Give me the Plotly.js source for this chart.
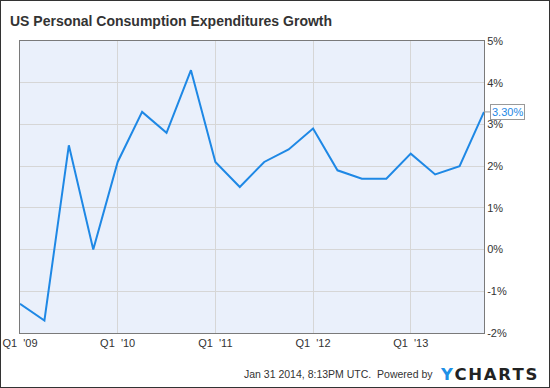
<!DOCTYPE html>
<html>
<head>
<meta charset="utf-8">
<script src="https://cdn.plot.ly/plotly-3.0.1.min.js"></script>
<style>
  html, body { margin: 0; padding: 0; background: #fff; }
  #wrap { position: relative; width: 550px; height: 388px; }
  #chart { width: 550px; height: 388px; }
  #frame { position: absolute; left: 0; top: 0; width: 550px; height: 388px; box-sizing: border-box; border: 1px solid #333; pointer-events: none; }
</style>
</head>
<body>
<div id="wrap"><div id="chart"></div><div id="frame"></div></div>
<script>
// Quarterly labels
const quarters = [
  "Q1 '09","Q2 '09","Q3 '09","Q4 '09",
  "Q1 '10","Q2 '10","Q3 '10","Q4 '10",
  "Q1 '11","Q2 '11","Q3 '11","Q4 '11",
  "Q1 '12","Q2 '12","Q3 '12","Q4 '12",
  "Q1 '13","Q2 '13","Q3 '13","Q4 '13"
];
// PCE growth, percent
const pceGrowth = [
  -1.3, -1.7, 2.5, 0.0,
  2.1, 3.3, 2.8, 4.3,
  2.1, 1.5, 2.1, 2.4,
  2.9, 1.9, 1.7, 1.7,
  2.3, 1.8, 2.0, 3.3
];
const xTickVals = ["Q1 '09","Q1 '10","Q1 '11","Q1 '12","Q1 '13"];
const xTickText = ["Q1\u00a0\u00a0'09","Q1\u00a0\u00a0'10","Q1\u00a0\u00a0'11","Q1\u00a0\u00a0'12","Q1\u00a0\u00a0'13"];
const yTickVals = [-2, -1, 0, 1, 2, 3, 4, 5];
const yTickText = ["-2%","-1%","0%","1%","2%","3%","4%","5%"];
const titleText = "US Personal Consumption Expenditures Growth";
const footerText = "Jan 31 2014, 8:13PM UTC.\u00a0 Powered by";
const lastLabel = pceGrowth[pceGrowth.length - 1].toFixed(2) + "%";

const W = 550, H = 388;
const mL = 19.5, mR = 65.7, mT = 41.3, mB = 55.3;

const trace = {
  type: 'scatter',
  mode: 'lines',
  x: quarters,
  y: pceGrowth,
  line: { color: '#1e88e5', width: 2 },
  hoverinfo: 'skip'
};

const font = "'Liberation Sans', Arial, sans-serif";

const layout = {
  width: W, height: H,
  margin: { l: mL, r: mR, t: mT, b: mB, pad: 0 },
  paper_bgcolor: '#ffffff',
  plot_bgcolor: '#eaf0fb',
  showlegend: false,
  font: { family: font, size: 11, color: '#333' },
  title: {
    text: '<b>' + titleText + '</b>',
    font: { family: font, size: 14, color: '#333' },
    xref: 'container', yref: 'container',
    x: 10 / W, xanchor: 'left',
    y: 1 - 21 / H, yanchor: 'middle'
  },
  xaxis: {
    type: 'category',
    categoryorder: 'array', categoryarray: quarters,
    range: [0, quarters.length - 1],
    tickmode: 'array', tickvals: xTickVals, ticktext: xTickText,
    showgrid: true, gridcolor: '#d6d6d6', gridwidth: 1,
    showline: true, linecolor: '#7a7a7a', linewidth: 1, mirror: true,
    ticks: '', zeroline: false,
    tickfont: { family: font, size: 11, color: '#333' }
  },
  yaxis: {
    side: 'right',
    range: [-2, 5],
    tickmode: 'array', tickvals: yTickVals, ticktext: yTickText,
    showgrid: true, gridcolor: '#d6d6d6', gridwidth: 1,
    showline: true, linecolor: '#7a7a7a', linewidth: 1, mirror: true,
    ticks: '', zeroline: false,
    tickfont: { family: font, size: 11, color: '#333' }
  },
  annotations: [
    {
      x: quarters[quarters.length - 1], y: pceGrowth[pceGrowth.length - 1],
      xref: 'x', yref: 'y',
      text: lastLabel,
      showarrow: true, arrowhead: 0, arrowwidth: 1, arrowcolor: '#999',
      ax: 6, ay: 0, xanchor: 'left', yanchor: 'middle',
      bgcolor: '#ffffff', bordercolor: '#999', borderwidth: 1, borderpad: 1,
      font: { family: font, size: 11, color: '#1e88e5' }
    },
    {
      xref: 'paper', yref: 'paper',
      x: (435 - mL) / (W - mL - mR), xanchor: 'right',
      y: -(374 - (H - mB)) / (H - mT - mB), yanchor: 'middle',
      text: footerText, showarrow: false,
      font: { family: font, size: 10.5, color: '#333' }
    },
    {
      xref: 'paper', yref: 'paper',
      x: (438 - mL) / (W - mL - mR), xanchor: 'left',
      y: -(374 - (H - mB)) / (H - mT - mB), yanchor: 'middle',
      text: "<b><span style='color:#1e90e6'>Y</span>\u200aC\u200aH\u200aA\u200aR\u200aT\u200aS</b>",
      showarrow: false,
      font: { family: "'DejaVu Sans', sans-serif", size: 16.5, color: '#222' }
    }
  ]
};

Plotly.newPlot('chart', [trace], layout, { staticPlot: true, displayModeBar: false });
</script>
</body>
</html>
